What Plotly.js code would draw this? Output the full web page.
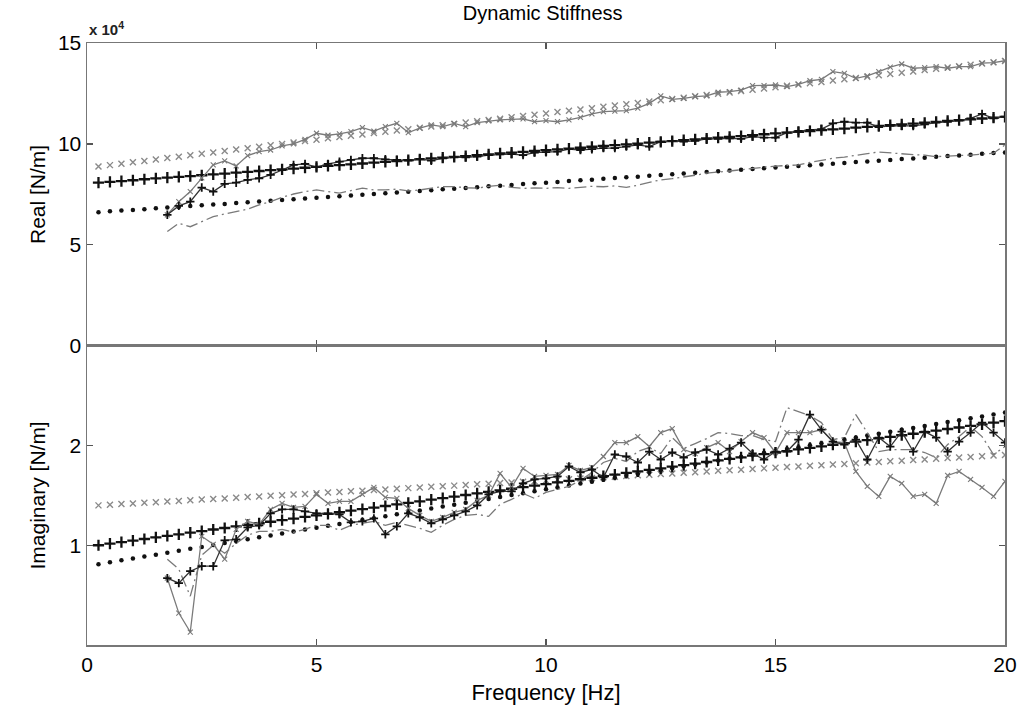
<!DOCTYPE html>
<html>
<head>
<meta charset="utf-8">
<script src="https://cdn.plot.ly/plotly-3.0.1.min.js"></script>
<style>html,body{margin:0;padding:0;background:#fff;}#chart{width:1022px;height:722px;}</style>
</head>
<body>
<div id="chart"></div>
<script>
// Frequencies [Hz]
const freqModel = [0.25,0.5,0.75,1,1.25,1.5,1.75,2,2.25,2.5,2.75,3,3.25,3.5,3.75,4,4.25,4.5,4.75,5,
5.25,5.5,5.75,6,6.25,6.5,6.75,7,7.25,7.5,7.75,8,8.25,8.5,8.75,9,9.25,9.5,9.75,10,
10.25,10.5,10.75,11,11.25,11.5,11.75,12,12.25,12.5,12.75,13,13.25,13.5,13.75,14,14.25,14.5,14.75,15,
15.25,15.5,15.75,16,16.25,16.5,16.75,17,17.25,17.5,17.75,18,18.25,18.5,18.75,19,19.25,19.5,19.75,20];
const freqMeas = [1.75,2,2.25,2.5,2.75,3,3.25,3.5,3.75,4,4.25,4.5,4.75,5,
5.25,5.5,5.75,6,6.25,6.5,6.75,7,7.25,7.5,7.75,8,8.25,8.5,8.75,9,9.25,9.5,9.75,10,
10.25,10.5,10.75,11,11.25,11.5,11.75,12,12.25,12.5,12.75,13,13.25,13.5,13.75,14,14.25,14.5,14.75,15,
15.25,15.5,15.75,16,16.25,16.5,16.75,17,17.25,17.5,17.75,18,18.25,18.5,18.75,19,19.25,19.5,19.75,20];

// Real part (x 10^4 N/m) - model curves
const realModelX = [8.88,8.95,9.02,9.09,9.16,9.23,9.30,9.37,9.44,9.51,9.58,9.65,9.72,9.79,9.86,9.93,10.00,10.07,10.14,10.21,
10.28,10.34,10.41,10.47,10.54,10.60,10.67,10.73,10.80,10.86,10.93,10.99,11.06,11.12,11.19,11.25,11.32,11.38,11.45,11.51,
11.58,11.64,11.71,11.77,11.84,11.90,11.97,12.03,12.10,12.16,12.23,12.29,12.36,12.42,12.49,12.55,12.62,12.68,12.75,12.81,
12.88,12.94,13.01,13.07,13.14,13.20,13.27,13.33,13.40,13.46,13.53,13.59,13.66,13.72,13.79,13.85,13.92,13.98,14.05,14.11];
const realModelPlus = [8.08,8.12,8.16,8.20,8.25,8.29,8.33,8.37,8.41,8.45,8.49,8.53,8.58,8.62,8.66,8.70,8.74,8.78,8.82,8.86,
8.91,8.95,8.99,9.03,9.07,9.11,9.15,9.20,9.24,9.28,9.32,9.36,9.40,9.44,9.48,9.53,9.57,9.61,9.65,9.69,
9.73,9.77,9.81,9.86,9.90,9.94,9.98,10.02,10.06,10.10,10.14,10.19,10.23,10.27,10.31,10.35,10.39,10.43,10.48,10.52,
10.56,10.60,10.64,10.68,10.72,10.76,10.81,10.85,10.89,10.93,10.97,11.01,11.05,11.09,11.14,11.18,11.22,11.26,11.30,11.34];
const realModelDot = [6.62,6.66,6.70,6.73,6.77,6.81,6.85,6.88,6.92,6.96,7.00,7.03,7.07,7.11,7.15,7.18,7.22,7.26,7.30,7.33,
7.37,7.41,7.45,7.48,7.52,7.56,7.60,7.63,7.67,7.71,7.75,7.78,7.82,7.86,7.90,7.93,7.97,8.01,8.05,8.08,
8.12,8.16,8.20,8.23,8.27,8.31,8.35,8.38,8.42,8.46,8.50,8.53,8.57,8.61,8.65,8.68,8.72,8.76,8.80,8.83,
8.87,8.91,8.95,8.98,9.02,9.06,9.10,9.13,9.17,9.21,9.25,9.28,9.32,9.36,9.40,9.43,9.47,9.51,9.55,9.58];
// Real part - measured curves
const realMeasX = [6.49,7.14,7.64,8.32,8.96,9.16,8.91,9.42,9.62,9.70,9.90,10.00,10.23,10.53,
10.43,10.50,10.61,10.81,10.64,10.86,11.02,10.56,10.78,10.94,10.86,11.02,10.86,11.06,11.14,11.19,11.22,11.24,11.10,11.15,
11.10,11.19,11.32,11.49,11.60,11.63,11.65,11.77,12.01,12.38,12.21,12.26,12.34,12.38,12.56,12.59,12.67,12.89,12.89,12.92,
12.84,12.95,13.13,13.20,13.58,13.50,13.25,13.37,13.58,13.80,13.96,13.75,13.78,13.83,13.75,13.83,13.83,14.00,14.03,14.12];
const realMeasPlus = [6.49,6.93,7.14,7.84,7.64,8.02,8.08,8.22,8.30,8.47,8.71,8.96,9.01,8.85,
9.01,9.12,9.21,9.29,9.29,9.24,9.21,9.18,9.26,9.17,9.29,9.34,9.34,9.37,9.45,9.49,9.50,9.45,9.57,9.59,
9.62,9.74,9.70,9.74,9.79,9.79,9.87,9.95,9.87,10.11,10.15,10.11,10.15,10.25,10.25,10.28,10.25,10.36,10.31,10.31,
10.56,10.64,10.69,10.73,11.02,11.10,11.06,11.06,10.83,10.89,10.89,10.89,10.97,11.06,11.10,11.15,11.27,11.49,11.27,11.35];
const realMeasDash = [5.66,6.07,5.90,6.15,6.40,6.53,6.65,6.77,6.98,7.14,7.36,7.52,7.64,7.72,
7.64,7.56,7.69,7.81,7.72,7.72,7.76,7.67,7.72,7.81,7.89,7.89,7.83,7.81,7.90,7.95,7.85,7.80,7.82,7.80,
7.84,7.80,7.86,7.90,7.88,7.92,7.85,7.95,8.10,8.22,8.28,8.35,8.45,8.55,8.62,8.66,8.72,8.80,8.85,8.90,
8.93,8.96,9.08,9.18,9.29,9.35,9.42,9.52,9.60,9.55,9.49,9.47,9.45,9.37,9.40,9.42,9.45,9.50,9.54,9.95];

// Imaginary part (x 10^4 N/m) - model curves
const imagModelX = [1.400,1.406,1.413,1.419,1.426,1.432,1.438,1.445,1.451,1.458,1.464,1.470,1.477,1.483,1.490,1.496,1.502,1.509,1.515,1.522,
1.528,1.534,1.541,1.547,1.554,1.560,1.566,1.573,1.579,1.586,1.592,1.598,1.605,1.611,1.618,1.624,1.630,1.637,1.643,1.650,
1.656,1.662,1.669,1.675,1.682,1.688,1.694,1.701,1.707,1.714,1.720,1.726,1.733,1.739,1.746,1.752,1.758,1.765,1.771,1.778,
1.784,1.790,1.797,1.803,1.810,1.816,1.822,1.829,1.835,1.842,1.848,1.854,1.861,1.867,1.874,1.880,1.886,1.893,1.899,1.906];
const imagModelPlus = [1.000,1.016,1.032,1.047,1.063,1.079,1.095,1.110,1.126,1.142,1.158,1.173,1.189,1.205,1.221,1.236,1.252,1.268,1.284,1.299,
1.315,1.331,1.347,1.362,1.378,1.394,1.410,1.425,1.441,1.457,1.473,1.488,1.504,1.520,1.536,1.551,1.567,1.583,1.599,1.614,
1.630,1.646,1.662,1.677,1.693,1.709,1.725,1.740,1.756,1.772,1.788,1.803,1.819,1.835,1.851,1.866,1.882,1.898,1.914,1.929,
1.945,1.961,1.977,1.992,2.008,2.024,2.040,2.055,2.071,2.087,2.103,2.118,2.134,2.150,2.166,2.181,2.197,2.213,2.229,2.244];
const imagModelDot = [0.810,0.829,0.849,0.868,0.887,0.906,0.926,0.945,0.964,0.983,1.003,1.022,1.041,1.060,1.080,1.099,1.118,1.137,1.157,1.176,
1.195,1.214,1.234,1.253,1.272,1.291,1.311,1.330,1.349,1.368,1.388,1.407,1.426,1.445,1.465,1.484,1.503,1.522,1.542,1.561,
1.580,1.599,1.619,1.638,1.657,1.676,1.696,1.715,1.734,1.753,1.773,1.792,1.811,1.830,1.850,1.869,1.888,1.907,1.927,1.946,
1.965,1.984,2.004,2.023,2.042,2.061,2.081,2.100,2.119,2.138,2.158,2.177,2.196,2.215,2.235,2.254,2.273,2.292,2.312,2.331];
// Imaginary part - measured curves
const imagMeasX = [0.67,0.32,0.13,1.09,1.01,0.86,1.16,1.24,1.21,1.36,1.42,1.38,1.39,1.51,
1.42,1.44,1.44,1.51,1.58,1.48,1.47,1.37,1.30,1.24,1.28,1.33,1.36,1.45,1.50,1.72,1.58,1.77,1.69,1.70,
1.71,1.80,1.75,1.78,1.89,2.03,2.03,2.09,1.99,2.13,2.17,1.96,1.92,1.98,2.03,1.94,2.04,2.13,2.08,1.93,
2.13,2.13,2.13,2.16,2.04,2.03,1.74,1.59,1.49,1.69,1.62,1.49,1.51,1.42,1.70,1.74,1.66,1.58,1.49,1.64];
const imagMeasPlus = [0.67,0.62,0.74,0.79,0.79,1.05,1.06,1.18,1.20,1.32,1.36,1.36,1.34,1.32,
1.32,1.31,1.23,1.24,1.27,1.11,1.19,1.32,1.28,1.22,1.26,1.30,1.34,1.40,1.51,1.54,1.54,1.62,1.66,1.67,
1.69,1.79,1.73,1.76,1.68,1.91,1.89,1.83,1.94,1.86,1.93,1.88,1.93,1.96,1.91,1.97,2.03,1.92,1.86,1.94,
1.94,2.06,2.31,2.16,2.04,2.01,2.06,1.86,2.08,1.99,2.14,1.94,2.14,2.08,1.94,2.04,2.13,2.23,2.13,2.03];
const imagMeasDash = [0.86,0.76,0.49,0.90,1.00,0.92,1.02,1.10,1.14,1.14,1.16,1.13,1.16,1.20,
1.20,1.15,1.20,1.22,1.24,1.20,1.23,1.20,1.17,1.13,1.20,1.26,1.30,1.31,1.29,1.41,1.46,1.52,1.47,1.53,
1.56,1.59,1.65,1.73,1.83,1.87,1.84,1.94,1.98,1.92,2.08,1.97,2.02,2.07,2.13,2.12,2.10,2.10,2.06,2.04,
2.38,2.34,2.30,2.23,2.06,2.08,2.31,2.13,1.94,1.96,1.96,1.96,1.93,1.88,2.01,2.09,2.19,2.09,1.91,1.99];

const GRAY = '#7a7a7a';
const BLACK = '#111111';

function series(x, y, ax, kind) {
  const t = {x: x, y: y, xaxis: ax === 1 ? 'x' : 'x2', yaxis: ax === 1 ? 'y' : 'y2', hoverinfo: 'skip'};
  if (kind === 'modelX') { t.mode = 'markers'; t.marker = {symbol: 'x-thin', size: 6, line: {color: '#8a8a8a', width: 1.4}, color: '#8a8a8a'}; }
  if (kind === 'modelPlus') { t.mode = 'markers'; t.marker = {symbol: 'cross-thin', size: 8, line: {color: BLACK, width: 2.3}, color: BLACK}; }
  if (kind === 'modelDot') { t.mode = 'markers'; t.marker = {symbol: 'circle', size: 4.5, color: BLACK}; }
  if (kind === 'measX') { t.mode = 'lines+markers'; t.line = {color: GRAY, width: 1.3}; t.marker = {symbol: 'x-thin', size: 5, line: {color: GRAY, width: 1.1}, color: GRAY}; }
  if (kind === 'measPlus') { t.mode = 'lines+markers'; t.line = {color: '#333', width: 1.3}; t.marker = {symbol: 'cross-thin', size: 6, line: {color: BLACK, width: 1.8}, color: BLACK}; }
  if (kind === 'measDash') { t.mode = 'lines'; t.line = {color: GRAY, width: 1.3, dash: '12px,4px,2px,4px'}; }
  return t;
}

const data = [
  series(freqModel, realModelX, 1, 'modelX'),
  series(freqModel, realModelPlus, 1, 'modelPlus'),
  series(freqModel, realModelDot, 1, 'modelDot'),
  series(freqMeas, realMeasDash, 1, 'measDash'),
  series(freqMeas, realMeasX, 1, 'measX'),
  series(freqMeas, realMeasPlus, 1, 'measPlus'),
  series(freqModel, imagModelX, 2, 'modelX'),
  series(freqModel, imagModelPlus, 2, 'modelPlus'),
  series(freqModel, imagModelDot, 2, 'modelDot'),
  series(freqMeas, imagMeasDash, 2, 'measDash'),
  series(freqMeas, imagMeasX, 2, 'measX'),
  series(freqMeas, imagMeasPlus, 2, 'measPlus')
];

const FAM = 'Liberation Sans, Arial, sans-serif';
const TICKFONT = {family: FAM, size: 21, color: '#000'};
const YTITLEFONT = {family: FAM, size: 21, color: '#000'};
const XTITLEFONT = {family: FAM, size: 22, color: '#000'};
const axisCommon = {
  showline: true, linecolor: '#777', linewidth: 1.5, mirror: 'ticks',
  ticks: 'inside', ticklen: 6, tickwidth: 1.2, tickcolor: '#555',
  showgrid: false, zeroline: false, tickfont: TICKFONT
};
const split = 0.497;

const layout = {
  width: 1022, height: 722,
  margin: {l: 87, r: 17, t: 43, b: 77},
  paper_bgcolor: '#fff', plot_bgcolor: '#fff',
  showlegend: false,
  font: {family: FAM, size: 20, color: '#000'},
  title: {text: 'Dynamic Stiffness', font: {family: FAM, size: 20, color: '#000'}, x: 0.531, xanchor: 'center', yref: 'container', y: 0.992, yanchor: 'top'},
  xaxis: Object.assign({}, axisCommon, {domain: [0, 1], range: [0, 20], tickvals: [0, 5, 10, 15, 20], showticklabels: false, anchor: 'y'}),
  yaxis: Object.assign({}, axisCommon, {domain: [split, 1], range: [0, 15], tickvals: [0, 5, 10, 15], anchor: 'x',
    title: {text: 'Real [N/m]', font: YTITLEFONT, standoff: 6}}),
  xaxis2: Object.assign({}, axisCommon, {domain: [0, 1], range: [0, 20], tickvals: [0, 5, 10, 15, 20], anchor: 'y2',
    title: {text: 'Frequency [Hz]', font: XTITLEFONT, standoff: 10}}),
  yaxis2: Object.assign({}, axisCommon, {domain: [0, split], range: [0, 3], tickvals: [1, 2], anchor: 'x2',
    title: {text: 'Imaginary [N/m]', font: YTITLEFONT, standoff: 18}}),
  annotations: [
    {text: '<b>x 10<sup>4</sup></b>', xref: 'paper', yref: 'paper', x: 0, y: 1, xanchor: 'left', yanchor: 'bottom', yshift: 3,
     showarrow: false, font: {family: FAM, size: 15, color: '#222'}}
  ]
};

Plotly.newPlot('chart', data, layout, {staticPlot: true, displayModeBar: false});
</script>
</body>
</html>
